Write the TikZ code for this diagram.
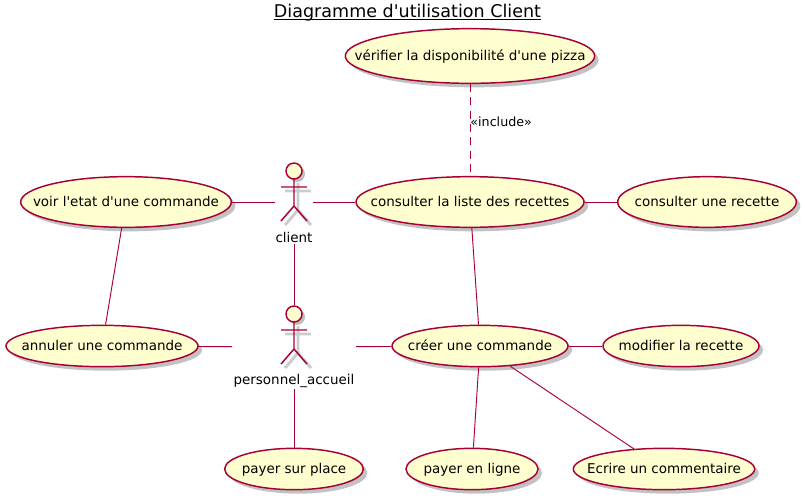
\documentclass[tikz,border=0pt]{standalone}
\usepackage{fontspec}
\setmainfont{DejaVu Sans}[Ligatures=TeXOff]
\usetikzlibrary{shapes.geometric,shadows}

\definecolor{umlline}{HTML}{A80036}
\definecolor{umlfill}{HTML}{FEFECE}

\tikzset{
	usecase/.style={ellipse, draw=umlline, fill=umlfill, line width=1.1pt, inner sep=0pt,
		minimum height=38, drop shadow={shadow xshift=3pt, shadow yshift=-3pt, fill=black!40, opacity=.6}},
	actorbox/.style={inner sep=0pt, outer sep=0pt, minimum width=#1, minimum height=63},
	link/.style={draw=umlline, line width=.7pt}
}

% Text ohne Einfluss auf die Groesse der Ellipse
\newcommand{\uctext}[1]{\makebox[0pt]{\raisebox{-.36em}[0pt][0pt]{#1}}}

% Strichmaennchen, #1/#2 = Mitte des Kopfes
\newcommand{\actorfig}[2]{
	\draw [black!20, line width=2.2pt, shift={(#1+4, #2+4)}] (0, 8) -- (0, 35) (-13, 16) -- (13, 16) (-13, 50) -- (0, 35) -- (13, 50);
	\fill [black!25] (#1+3, #2+3) circle (8);
	\draw [umlline, line width=1.1pt, fill=umlfill] (#1, #2) circle (8);
	\draw [umlline, line width=1.1pt, shift={(#1, #2)}] (0, 8) -- (0, 35) (-13, 16) -- (13, 16) (-13, 50) -- (0, 35) -- (13, 50);
}

\begin{document}
\begin{tikzpicture}[x=0.75pt, y=-0.75pt, font=\fontsize{10.1pt}{12pt}\selectfont]
	\useasboundingbox (0, 0) rectangle (805, 500);
	% Titel
	\node [anchor=base, inner sep=0pt] (titel) at (407.5, 17) {\fontsize{13.15pt}{15pt}\selectfont Diagramme d'utilisation Client};
	\draw [line width=.9pt] ([yshift=-1.8pt]titel.base west) -- ([yshift=-1.8pt]titel.base east);
	% Oben
	\node [usecase, minimum width=187, minimum height=41] (verifier) at (470, 56) {\uctext{vérifier la disponibilité d'une pizza}};
	% Mittlere Reihe
	\node [usecase, minimum width=158] (voir) at (126, 202) {\uctext{voir l'etat d'une commande}};
	\node [usecase, minimum width=171] (liste) at (470, 202) {\uctext{consulter la liste des recettes}};
	\node [usecase, minimum width=134] (recette) at (707, 202) {\uctext{consulter une recette}};
	% Untere Reihe
	\node [usecase, minimum width=144, minimum height=31] (annuler) at (102, 346) {\uctext{annuler une commande}};
	\node [usecase, minimum width=132, minimum height=31] (creer) at (480, 346) {\uctext{créer une commande}};
	\node [usecase, minimum width=117, minimum height=31] (modifier) at (681, 346) {\uctext{modifier la recette}};
	% Ganz unten
	\node [usecase, minimum width=104, minimum height=31] (place) at (294, 469) {\uctext{payer sur place}};
	\node [usecase, minimum width=99, minimum height=31] (ligne) at (472, 469) {\uctext{payer en ligne}};
	\node [usecase, minimum width=136, minimum height=31] (ecrire) at (664, 469) {\uctext{Ecrire un commentaire}};
	% Akteure
	\actorfig{294}{171}
	\actorfig{294}{314}
	\node (clientlabel) at (294, 237) {client};
	\node (accueillabel) at (294, 381) {personnel\_accueil};
	\node [actorbox=28] (client) at (294, 202) {};
	\node [actorbox=93] (accueil) at (294, 347) {};
	% Linien
	\draw [link, dashed, dash pattern=on 6pt off 4pt] (verifier) -- (liste) node [pos=.41, right=-3pt, inner sep=3pt, black] {\fontsize{9.5pt}{11pt}\selectfont«include»};
	\draw [link] (voir) -- (client);
	\draw [link] (client) -- (liste);
	\draw [link] (liste) -- (recette);
	\draw [link] (voir) -- (annuler);
	\draw [link] (client) -- (accueil);
	\draw [link] (liste) -- (creer);
	\draw [link] (annuler) -- (accueil);
	\draw [link] (accueil) -- (creer);
	\draw [link] (creer) -- (modifier);
	\draw [link] (accueil) -- (place);
	\draw [link] (creer) -- (ligne);
	\draw [link] (creer) -- (ecrire);
\end{tikzpicture}
\end{document}
